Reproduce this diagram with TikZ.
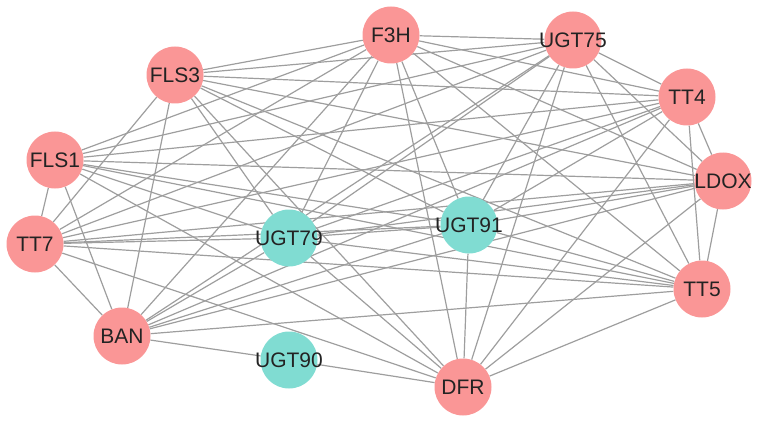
\documentclass[tikz,border=0pt]{standalone}
\usepackage{fontspec}
\setmainfont{Liberation Sans}
\usetikzlibrary{backgrounds}
\definecolor{pinkn}{RGB}{250,150,150}
\definecolor{tealn}{RGB}{128,220,210}
\definecolor{edgec}{RGB}{158,158,158}
\definecolor{txt}{RGB}{35,35,35}
\begin{document}
\begin{tikzpicture}[x=1pt,y=-1pt,
  gene/.style={circle,minimum size=57pt,inner sep=0pt,draw=none},
  pinkgene/.style={gene,fill=pinkn},
  tealgene/.style={gene,fill=tealn},
  lab/.style={label={[text=txt,inner sep=0pt,font=\fontsize{21}{21}\selectfont]center:#1}},
  link/.style={draw=edgec,line width=1.2pt}]
\useasboundingbox (0,0) rectangle (763,425);
\node[pinkgene,lab=F3H]   (F3H)   at (391,35)  {};
\node[pinkgene,lab=UGT75] (UGT75) at (573,40)  {};
\node[pinkgene,lab=FLS3]  (FLS3)  at (175,75)  {};
\node[pinkgene,lab=TT4]   (TT4)   at (687,97)  {};
\node[pinkgene,lab=FLS1]  (FLS1)  at (55,160)  {};
\node[pinkgene,lab=LDOX]  (LDOX)  at (723,181) {};
\node[pinkgene,lab=TT7]   (TT7)   at (35,244)  {};
\node[tealgene,lab=UGT79] (UGT79) at (289,238) {};
\node[tealgene,lab=UGT91] (UGT91) at (469,225) {};
\node[pinkgene,lab=TT5]   (TT5)   at (702,289) {};
\node[pinkgene,lab=BAN]   (BAN)   at (122,336) {};
\node[tealgene,lab=UGT90] (UGT90) at (289,360) {};
\node[pinkgene,lab=DFR]   (DFR)   at (463,387) {};
\begin{scope}[on background layer]
\foreach \a/\b in {F3H/UGT75,F3H/FLS3,F3H/TT4,F3H/FLS1,F3H/LDOX,F3H/TT7,F3H/UGT79,F3H/UGT91,F3H/TT5,F3H/BAN,F3H/DFR,
  UGT75/FLS3,UGT75/TT4,UGT75/FLS1,UGT75/LDOX,UGT75/TT7,UGT75/UGT79,UGT75/UGT91,UGT75/TT5,UGT75/BAN,UGT75/DFR,
  FLS3/TT4,FLS3/LDOX,FLS3/TT7,FLS3/UGT79,FLS3/UGT91,FLS3/TT5,FLS3/BAN,FLS3/DFR,
  TT4/FLS1,TT4/LDOX,TT4/TT7,TT4/UGT79,TT4/UGT91,TT4/TT5,TT4/BAN,TT4/DFR,
  FLS1/LDOX,FLS1/TT7,FLS1/UGT79,FLS1/UGT91,FLS1/TT5,FLS1/BAN,FLS1/DFR,
  LDOX/TT7,LDOX/UGT79,LDOX/UGT91,LDOX/TT5,LDOX/BAN,LDOX/DFR,
  TT7/UGT79,TT7/UGT91,TT7/TT5,TT7/BAN,TT7/DFR,
  UGT79/UGT91,UGT79/TT5,UGT79/BAN,UGT79/DFR,
  UGT91/TT5,UGT91/BAN,UGT91/DFR,
  TT5/BAN,TT5/DFR,
  UGT90/BAN,UGT90/DFR}
  \draw[link] (\a) -- (\b);
\end{scope}
\end{tikzpicture}
\end{document}
